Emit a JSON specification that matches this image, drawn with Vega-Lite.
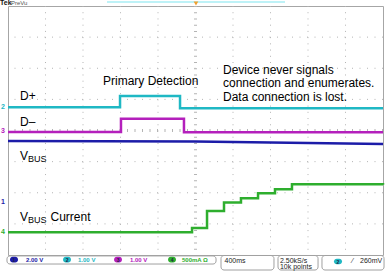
{
  "$schema": "https://vega.github.io/schema/vega-lite/v6.json",
  "width": 375,
  "height": 249,
  "autosize": {"type": "none"},
  "padding": {"left": 8, "top": 6, "right": 6, "bottom": 19},
  "background": "white",
  "config": {"view": {"stroke": "#a6a6a6", "strokeWidth": 1}, "font": "Liberation Sans"},
  "datasets": {
    "gridx": [{"t": -1600}, {"t": -1200}, {"t": -800}, {"t": -400}, {"t": 400}, {"t": 800}, {"t": 1200}, {"t": 1600}],
    "gridy": [{"d": -3}, {"d": -2}, {"d": -1}, {"d": 1}, {"d": 2}, {"d": 3}],
    "centerx": [{"t": 0}],
    "centery": [{"d": 0}],
    "traces": [
      {"ch": "2", "t": -2000, "d": 0.745}, {"ch": "2", "t": -805, "d": 1.108}, {"ch": "2", "t": -165, "d": 0.713}, {"ch": "2", "t": 2000, "d": 0.713},
      {"ch": "3", "t": -2000, "d": -0.05}, {"ch": "3", "t": -795, "d": 0.375}, {"ch": "3", "t": -123, "d": -0.06}, {"ch": "3", "t": 2000, "d": -0.06},
      {"ch": "4", "t": -2000, "d": -3.27}, {"ch": "4", "t": -37, "d": -3.13}, {"ch": "4", "t": 123, "d": -2.59}, {"ch": "4", "t": 304, "d": -2.31}, {"ch": "4", "t": 485, "d": -2.18}, {"ch": "4", "t": 667, "d": -2.02}, {"ch": "4", "t": 848, "d": -1.89}, {"ch": "4", "t": 1029, "d": -1.73}, {"ch": "4", "t": 2000, "d": -1.74}
    ],
    "vbus": [{"ch": "1", "t": -2000, "d": -0.337}, {"ch": "1", "t": 0, "d": -0.35}, {"ch": "1", "t": 2000, "d": -0.43}],
    "labels": [
      {"text": "Primary Detection", "t": -987, "d": 1.446},
      {"text": "D+", "t": -1872, "d": 0.98},
      {"text": "D–", "t": -1872, "d": 0.145},
      {"text": "V", "t": -1872, "d": -0.932},
      {"text": "V", "t": -1872, "d": -2.908},
      {"text": "Current", "t": -1547, "d": -2.908},
      {"text": "Device never signals", "t": 293, "d": 1.831},
      {"text": "connection and enumerates.", "t": 293, "d": 1.382},
      {"text": "Data connection is lost.", "t": 293, "d": 0.932}
    ],
    "subs": [{"text": "BUS", "t": -1787, "d": -0.996}, {"text": "BUS", "t": -1787, "d": -2.972}],
    "markers": [{"ch": "2", "t": -2075, "d": 0.75}, {"ch": "3", "t": -2075, "d": -0.03}, {"ch": "1", "t": -2075, "d": -2.297}, {"ch": "4", "t": -2075, "d": -3.27}],
    "boxes": [
      {"t": -2011, "t2": 219, "d": -4.03, "d2": -4.29},
      {"t": 272, "t2": 837, "d": -4.016, "d2": -4.482},
      {"t": 880, "t2": 1307, "d": -4.016, "d2": -4.482},
      {"t": 1349, "t2": 2011, "d": -4.016, "d2": -4.482}
    ],
    "pills": [
      {"ch": "1", "t": -1979, "t2": -1893, "tm": -1936, "d": -4.06, "d2": -4.24, "dm": -4.15},
      {"ch": "2", "t": -1413, "t2": -1328, "tm": -1370, "d": -4.06, "d2": -4.24, "dm": -4.15},
      {"ch": "3", "t": -869, "t2": -784, "tm": -826, "d": -4.06, "d2": -4.24, "dm": -4.15},
      {"ch": "4", "t": -293, "t2": -208, "tm": -250, "d": -4.06, "d2": -4.24, "dm": -4.15},
      {"ch": "2", "t": 1477, "t2": 1563, "tm": 1520, "d": -4.12, "d2": -4.3, "dm": -4.21}
    ],
    "readouts": [
      {"ch": "1", "text": "2.00 V", "t": -1808, "d": -4.21},
      {"ch": "2", "text": "1.00 V", "t": -1253, "d": -4.21},
      {"ch": "3", "text": "1.00 V", "t": -699, "d": -4.21},
      {"ch": "4", "text": "500mA Ω", "t": -144, "d": -4.21}
    ],
    "boxtext": [
      {"text": "400ms", "t": 310, "d": -4.241},
      {"text": "2.50kS/s", "t": 901, "d": -4.241},
      {"text": "10k points", "t": 901, "d": -4.45},
      {"text": "⁄", "t": 1669, "d": -4.241},
      {"text": "260mV", "t": 1755, "d": -4.241}
    ],
    "top": [{"t": -944, "t2": 955, "d": 4.13}],
    "trig": [{"t": 5, "d": 4.08}],
    "tek": [{"text": "Tek", "t": -2085, "d": 4.035}],
    "prevu": [{"text": "PreVu", "t": -1968, "d": 4.035}]
  },
  "layer": [
    {
      "data": {"name": "gridx"},
      "mark": {"type": "rule", "color": "#b4b4b4", "strokeDash": [1, 5.225]},
      "encoding": {"x": {"field": "t", "type": "quantitative", "scale": {"domain": [-2000, 2000], "nice": false, "zero": false}, "axis": null}}
    },
    {
      "data": {"name": "gridy"},
      "mark": {"type": "rule", "color": "#b4b4b4", "strokeDash": [1, 6.5]},
      "encoding": {"y": {"field": "d", "type": "quantitative", "scale": {"domain": [-4, 4], "nice": false, "zero": false}, "axis": null}}
    },
    {
      "data": {"name": "centerx"},
      "mark": {"type": "rule", "color": "#b4b4b4", "strokeWidth": 3, "strokeDash": [1, 5.225]},
      "encoding": {"x": {"field": "t", "type": "quantitative", "scale": {"domain": [-2000, 2000], "nice": false, "zero": false}, "axis": null}}
    },
    {
      "data": {"name": "centery"},
      "mark": {"type": "rule", "color": "#b4b4b4", "strokeWidth": 3, "strokeDash": [1, 6.5]},
      "encoding": {"y": {"field": "d", "type": "quantitative", "scale": {"domain": [-4, 4], "nice": false, "zero": false}, "axis": null}}
    },
    {
      "data": {"name": "top"},
      "mark": {"type": "rule", "color": "#a8eef4", "strokeWidth": 1.5},
      "encoding": {
        "x": {"field": "t", "type": "quantitative", "scale": {"domain": [-2000, 2000], "nice": false, "zero": false}, "axis": null},
        "x2": {"field": "t2"},
        "y": {"field": "d", "type": "quantitative", "scale": {"domain": [-4, 4], "nice": false, "zero": false}, "axis": null}
      }
    },
    {
      "data": {"name": "trig"},
      "mark": {"type": "point", "shape": "triangle-down", "filled": true, "color": "#f0a030", "size": 22, "opacity": 1},
      "encoding": {
        "x": {"field": "t", "type": "quantitative", "scale": {"domain": [-2000, 2000], "nice": false, "zero": false}, "axis": null},
        "y": {"field": "d", "type": "quantitative", "scale": {"domain": [-4, 4], "nice": false, "zero": false}, "axis": null}
      }
    },
    {
      "data": {"name": "tek"},
      "mark": {"type": "text", "align": "left", "baseline": "alphabetic", "fontSize": 7, "fontWeight": "bold", "color": "#111111"},
      "encoding": {
        "x": {"field": "t", "type": "quantitative", "scale": {"domain": [-2000, 2000], "nice": false, "zero": false}, "axis": null},
        "y": {"field": "d", "type": "quantitative", "scale": {"domain": [-4, 4], "nice": false, "zero": false}, "axis": null},
        "text": {"field": "text"}
      }
    },
    {
      "data": {"name": "prevu"},
      "mark": {"type": "text", "align": "left", "baseline": "alphabetic", "fontSize": 6, "color": "#555555"},
      "encoding": {
        "x": {"field": "t", "type": "quantitative", "scale": {"domain": [-2000, 2000], "nice": false, "zero": false}, "axis": null},
        "y": {"field": "d", "type": "quantitative", "scale": {"domain": [-4, 4], "nice": false, "zero": false}, "axis": null},
        "text": {"field": "text"}
      }
    },
    {
      "data": {"name": "vbus"},
      "mark": {"type": "line", "strokeWidth": 2.5},
      "encoding": {
        "x": {"field": "t", "type": "quantitative", "scale": {"domain": [-2000, 2000], "nice": false, "zero": false}, "axis": null},
        "y": {"field": "d", "type": "quantitative", "scale": {"domain": [-4, 4], "nice": false, "zero": false}, "axis": null},
        "color": {"field": "ch", "type": "nominal", "scale": {"domain": ["1", "2", "3", "4"], "range": ["#1c1ca8", "#1fb8c4", "#b420bc", "#2eae2e"]}, "legend": null}
      }
    },
    {
      "data": {"name": "traces"},
      "mark": {"type": "line", "strokeWidth": 2.5, "interpolate": "step-after"},
      "encoding": {
        "x": {"field": "t", "type": "quantitative", "scale": {"domain": [-2000, 2000], "nice": false, "zero": false}, "axis": null},
        "y": {"field": "d", "type": "quantitative", "scale": {"domain": [-4, 4], "nice": false, "zero": false}, "axis": null},
        "color": {"field": "ch", "type": "nominal", "scale": {"domain": ["1", "2", "3", "4"], "range": ["#1c1ca8", "#1fb8c4", "#b420bc", "#2eae2e"]}, "legend": null}
      }
    },
    {
      "data": {"name": "markers"},
      "mark": {"type": "text", "align": "left", "baseline": "middle", "fontSize": 7, "fontWeight": "bold"},
      "encoding": {
        "x": {"field": "t", "type": "quantitative", "scale": {"domain": [-2000, 2000], "nice": false, "zero": false}, "axis": null},
        "y": {"field": "d", "type": "quantitative", "scale": {"domain": [-4, 4], "nice": false, "zero": false}, "axis": null},
        "text": {"field": "ch"},
        "color": {"field": "ch", "type": "nominal", "scale": {"domain": ["1", "2", "3", "4"], "range": ["#1c1ca8", "#1fb8c4", "#b420bc", "#2eae2e"]}, "legend": null}
      }
    },
    {
      "data": {"name": "labels"},
      "mark": {"type": "text", "align": "left", "baseline": "alphabetic", "fontSize": 12, "font": "Liberation Sans", "color": "#000000"},
      "encoding": {
        "x": {"field": "t", "type": "quantitative", "scale": {"domain": [-2000, 2000], "nice": false, "zero": false}, "axis": null},
        "y": {"field": "d", "type": "quantitative", "scale": {"domain": [-4, 4], "nice": false, "zero": false}, "axis": null},
        "text": {"field": "text"}
      }
    },
    {
      "data": {"name": "subs"},
      "mark": {"type": "text", "align": "left", "baseline": "alphabetic", "fontSize": 9, "font": "Liberation Sans", "color": "#000000"},
      "encoding": {
        "x": {"field": "t", "type": "quantitative", "scale": {"domain": [-2000, 2000], "nice": false, "zero": false}, "axis": null},
        "y": {"field": "d", "type": "quantitative", "scale": {"domain": [-4, 4], "nice": false, "zero": false}, "axis": null},
        "text": {"field": "text"}
      }
    },
    {
      "data": {"name": "boxes"},
      "mark": {"type": "rect", "fill": "white", "stroke": "#a0a0a0", "strokeWidth": 1, "cornerRadius": 3},
      "encoding": {
        "x": {"field": "t", "type": "quantitative", "scale": {"domain": [-2000, 2000], "nice": false, "zero": false}, "axis": null},
        "x2": {"field": "t2"},
        "y": {"field": "d", "type": "quantitative", "scale": {"domain": [-4, 4], "nice": false, "zero": false}, "axis": null},
        "y2": {"field": "d2"}
      }
    },
    {
      "data": {"name": "pills"},
      "mark": {"type": "rect", "cornerRadius": 3},
      "encoding": {
        "x": {"field": "t", "type": "quantitative", "scale": {"domain": [-2000, 2000], "nice": false, "zero": false}, "axis": null},
        "x2": {"field": "t2"},
        "y": {"field": "d", "type": "quantitative", "scale": {"domain": [-4, 4], "nice": false, "zero": false}, "axis": null},
        "y2": {"field": "d2"},
        "color": {"field": "ch", "type": "nominal", "scale": {"domain": ["1", "2", "3", "4"], "range": ["#1c1ca8", "#1fb8c4", "#b420bc", "#2eae2e"]}, "legend": null}
      }
    },
    {
      "data": {"name": "pills"},
      "mark": {"type": "text", "align": "center", "baseline": "middle", "fontSize": 5, "fontWeight": "bold", "color": "#222244"},
      "encoding": {
        "x": {"field": "tm", "type": "quantitative", "scale": {"domain": [-2000, 2000], "nice": false, "zero": false}, "axis": null},
        "y": {"field": "dm", "type": "quantitative", "scale": {"domain": [-4, 4], "nice": false, "zero": false}, "axis": null},
        "text": {"field": "ch"}
      }
    },
    {
      "data": {"name": "readouts"},
      "mark": {"type": "text", "align": "left", "baseline": "alphabetic", "fontSize": 6, "fontWeight": "bold"},
      "encoding": {
        "x": {"field": "t", "type": "quantitative", "scale": {"domain": [-2000, 2000], "nice": false, "zero": false}, "axis": null},
        "y": {"field": "d", "type": "quantitative", "scale": {"domain": [-4, 4], "nice": false, "zero": false}, "axis": null},
        "text": {"field": "text"},
        "color": {"field": "ch", "type": "nominal", "scale": {"domain": ["1", "2", "3", "4"], "range": ["#1c1ca8", "#1fb8c4", "#b420bc", "#2eae2e"]}, "legend": null}
      }
    },
    {
      "data": {"name": "boxtext"},
      "mark": {"type": "text", "align": "left", "baseline": "alphabetic", "fontSize": 7, "color": "#222222"},
      "encoding": {
        "x": {"field": "t", "type": "quantitative", "scale": {"domain": [-2000, 2000], "nice": false, "zero": false}, "axis": null},
        "y": {"field": "d", "type": "quantitative", "scale": {"domain": [-4, 4], "nice": false, "zero": false}, "axis": null},
        "text": {"field": "text"}
      }
    }
  ]
}
